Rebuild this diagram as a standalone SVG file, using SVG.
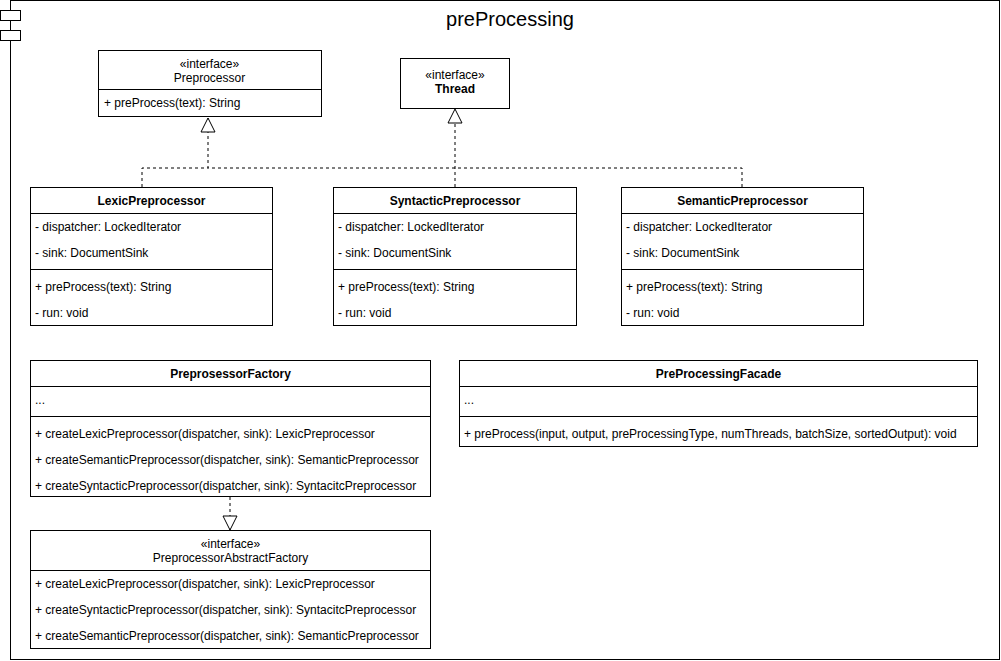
<svg xmlns="http://www.w3.org/2000/svg" width="1001" height="661" viewBox="0 0 1001 661">
<style>
text{font-family:"Liberation Sans",Arial,sans-serif;font-size:12px;fill:#000}
.b{font-weight:bold}
.c{text-anchor:middle}
.t{font-size:20px}
.box{fill:#fff;stroke:#000;stroke-width:1}
.ln{stroke:#000;stroke-width:1;fill:none}
.dash{stroke:#000;stroke-width:1;fill:none;stroke-dasharray:3 3}
</style>
<defs>
<marker id="tri" viewBox="0 0 16 16" markerWidth="16" markerHeight="16" refX="15" refY="8" orient="auto" markerUnits="userSpaceOnUse">
<path d="M1,1 L15,8 L1,15 Z" fill="#fff" stroke="#000" stroke-width="1" stroke-dasharray="none"/>
</marker>
</defs>
<g id="frame">
<rect x="10.5" y="0.5" width="989" height="659" fill="#fff" stroke="#000"/>
<rect x="0.5" y="10.5" width="20" height="10" class="box"/>
<rect x="0.5" y="30.5" width="20" height="10" class="box"/>
<text x="510" y="26" class="c t">preProcessing</text>
</g>
<g id="connectors">
<path class="dash" d="M142,187 V168 H208 V118" marker-end="url(#tri)"/>
<path class="dash" d="M742,187 V168 H208"/>
<path class="dash" d="M455,187 V109" marker-end="url(#tri)"/>
<path class="dash" d="M230,497 V530" marker-end="url(#tri)"/>
</g>
<g id="Preprocessor">
<rect x="98.5" y="50.5" width="223" height="66" class="box"/>
<line x1="98.5" y1="89.5" x2="321.5" y2="89.5" class="ln"/>
<text x="209.5" y="68" class="c">«interface»</text>
<text x="209.5" y="82" class="c">Preprocessor</text>
<text x="104" y="107">+ preProcess(text): String</text>
</g>
<g id="Thread">
<rect x="400.5" y="58.5" width="109" height="50" class="box"/>
<text x="455" y="79" class="c">«interface»</text>
<text x="455" y="93" class="c b">Thread</text>
</g>
<g id="LexicPreprocessor">
<rect x="30.5" y="187.5" width="242" height="138" class="box"/>
<line x1="30.5" y1="213.5" x2="272.5" y2="213.5" class="ln"/>
<line x1="30.5" y1="269.5" x2="272.5" y2="269.5" class="ln"/>
<text x="151.5" y="205" class="c b">LexicPreprocessor</text>
<text x="35" y="231">- dispatcher: LockedIterator</text>
<text x="35" y="257">- sink: DocumentSink</text>
<text x="35" y="291">+ preProcess(text): String</text>
<text x="35" y="317">- run: void</text>
</g>
<g id="SyntacticPreprocessor">
<rect x="333.5" y="187.5" width="243" height="138" class="box"/>
<line x1="333.5" y1="213.5" x2="576.5" y2="213.5" class="ln"/>
<line x1="333.5" y1="269.5" x2="576.5" y2="269.5" class="ln"/>
<text x="455" y="205" class="c b">SyntacticPreprocessor</text>
<text x="338" y="231">- dispatcher: LockedIterator</text>
<text x="338" y="257">- sink: DocumentSink</text>
<text x="338" y="291">+ preProcess(text): String</text>
<text x="338" y="317">- run: void</text>
</g>
<g id="SemanticPreprocessor">
<rect x="621.5" y="187.5" width="242" height="138" class="box"/>
<line x1="621.5" y1="213.5" x2="863.5" y2="213.5" class="ln"/>
<line x1="621.5" y1="269.5" x2="863.5" y2="269.5" class="ln"/>
<text x="742.5" y="205" class="c b">SemanticPreprocessor</text>
<text x="626" y="231">- dispatcher: LockedIterator</text>
<text x="626" y="257">- sink: DocumentSink</text>
<text x="626" y="291">+ preProcess(text): String</text>
<text x="626" y="317">- run: void</text>
</g>
<g id="PreprosessorFactory">
<rect x="30.5" y="360.5" width="400" height="136" class="box"/>
<line x1="30.5" y1="386.5" x2="430.5" y2="386.5" class="ln"/>
<line x1="30.5" y1="416.5" x2="430.5" y2="416.5" class="ln"/>
<text x="230.5" y="378" class="c b">PreprosessorFactory</text>
<text x="35" y="404">...</text>
<text x="35" y="438">+ createLexicPreprocessor(dispatcher, sink): LexicPreprocessor</text>
<text x="35" y="464">+ createSemanticPreprocessor(dispatcher, sink): SemanticPreprocessor</text>
<text x="35" y="490">+ createSyntacticPreprocessor(dispatcher, sink): SyntacitcPreprocessor</text>
</g>
<g id="PreProcessingFacade">
<rect x="459.5" y="360.5" width="518" height="86" class="box"/>
<line x1="459.5" y1="386.5" x2="977.5" y2="386.5" class="ln"/>
<line x1="459.5" y1="416.5" x2="977.5" y2="416.5" class="ln"/>
<text x="718.5" y="378" class="c b">PreProcessingFacade</text>
<text x="464" y="404">...</text>
<text x="464" y="438">+ preProcess(input, output, preProcessingType, numThreads, batchSize, sortedOutput): void</text>
</g>
<g id="PreprocessorAbstractFactory">
<rect x="30.5" y="530.5" width="400" height="118" class="box"/>
<line x1="30.5" y1="570.5" x2="430.5" y2="570.5" class="ln"/>
<text x="230.5" y="548" class="c">«interface»</text>
<text x="230.5" y="562" class="c">PreprocessorAbstractFactory</text>
<text x="35" y="588">+ createLexicPreprocessor(dispatcher, sink): LexicPreprocessor</text>
<text x="35" y="614">+ createSyntacticPreprocessor(dispatcher, sink): SyntacitcPreprocessor</text>
<text x="35" y="640">+ createSemanticPreprocessor(dispatcher, sink): SemanticPreprocessor</text>
</g>
</svg>
